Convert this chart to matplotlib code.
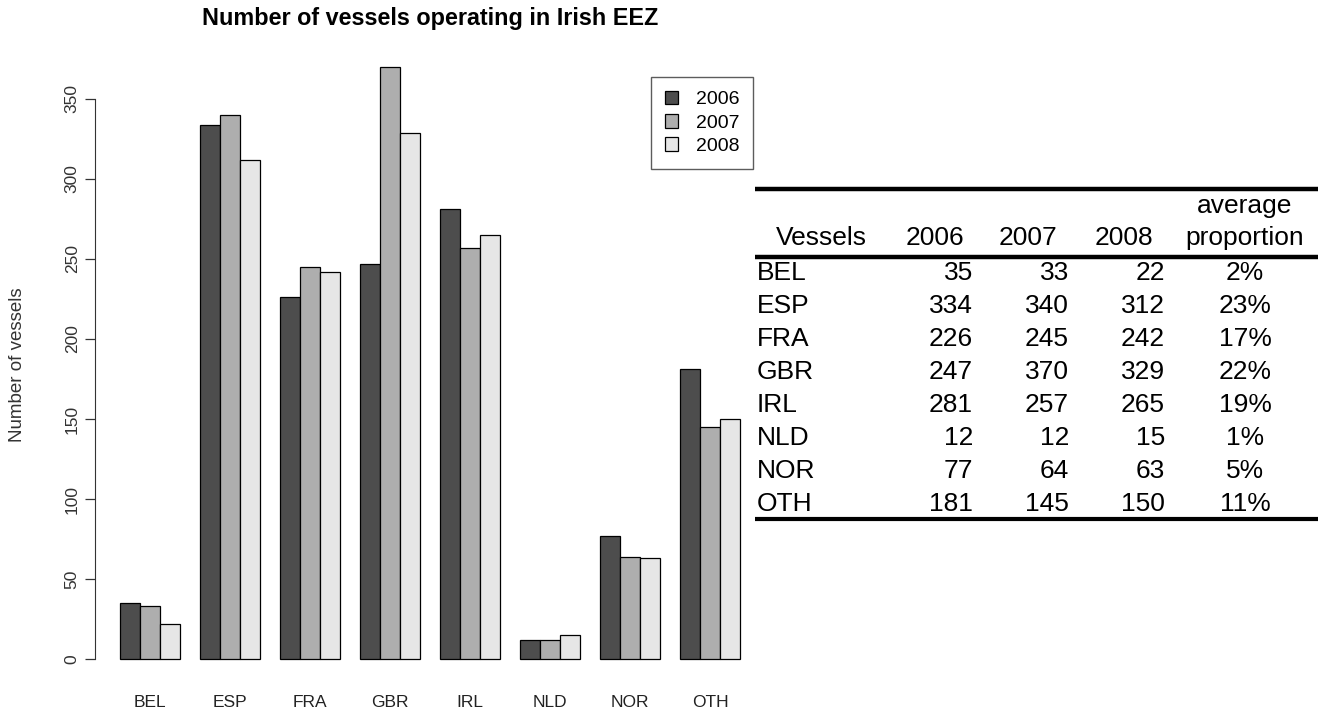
import numpy as np
import matplotlib.pyplot as plt
from matplotlib.lines import Line2D

plt.rcParams['font.family'] = ['Liberation Sans', 'DejaVu Sans']

# vessel counts by flag country
countries = ["BEL", "ESP", "FRA", "GBR", "IRL", "NLD", "NOR", "OTH"]
years = ["2006", "2007", "2008"]
v2006 = [35, 334, 226, 247, 281, 12, 77, 181]
v2007 = [33, 340, 245, 370, 257, 12, 64, 145]
v2008 = [22, 312, 242, 329, 265, 15, 63, 150]
colours = ["#4D4D4D", "#AEAEAE", "#E6E6E6"]

counts = np.array([v2006, v2007, v2008])
avg_prop = counts.mean(axis=0) / counts.mean(axis=0).sum() * 100

W, H = 1324, 713
fig = plt.figure(figsize=(W / 100, H / 100), dpi=100)

def fx(px):
    return px / W

def fy(py):
    return 1 - py / H

# barplot area (units: one bar = 1)
ax = fig.add_axes([fx(95), fy(682.7), fx(765) - fx(95), fy(43.3) - fy(682.7)])
ax.set_xlim(-0.24, 33.24)
ax.set_ylim(-14.8, 384.8)

for j, vals in enumerate(counts):
    lefts = 1 + 4 * np.arange(len(countries)) + j
    ax.bar(lefts, vals, width=1, align='edge', color=colours[j],
           edgecolor='black', linewidth=0.9, label=years[j])

for s in ["top", "right", "bottom"]:
    ax.spines[s].set_visible(False)
ax.spines["left"].set_bounds(0, 350)
ax.spines["left"].set_color("#333333")
ax.set_yticks(np.arange(0, 351, 50))
ax.set_yticklabels([str(v) for v in range(0, 351, 50)], rotation=90,
                   va='center', fontsize=12.5, color="#333333")
ax.tick_params(axis='y', length=7, width=0.9, color="#333333", pad=4)
ax.set_xticks(2.5 + 4 * np.arange(len(countries)))
ax.set_xticklabels(countries, fontsize=12.5, color="#222222")
ax.tick_params(axis='x', length=0, pad=9)

fig.text(fx(18), fy(365), "Number of vessels", rotation=90, ha='center',
         va='center', fontsize=13.5, color="#333333")

fig.text(fx(430), fy(19), "Number of vessels operating in Irish EEZ",
         ha='center', va='center', fontsize=16.8, fontweight='bold')

leg = fig.legend(loc='upper left', bbox_to_anchor=(fx(651), fy(77)),
                 fontsize=14, frameon=True, fancybox=False, borderaxespad=0,
                 handlelength=0.7, handleheight=0.7, handletextpad=0.9,
                 labelspacing=0.3, borderpad=0.7)
leg.get_frame().set_edgecolor('#333333')
leg.get_frame().set_linewidth(1.0)

# summary table on the right
tfs = 19
x0, x1 = 755, 1318
for y, lw in [(189, 3.2), (257, 3.2), (519, 3.0)]:
    fig.add_artist(Line2D([fx(x0), fx(x1)], [fy(y), fy(y)], color='black',
                          linewidth=lw, solid_capstyle='butt'))

fig.text(fx(821), fy(238), "Vessels", ha='center', va='center', fontsize=tfs)
for xc, yr in zip([935, 1028, 1124], years):
    fig.text(fx(xc), fy(238), yr, ha='center', va='center', fontsize=tfs)
fig.text(fx(1245), fy(206), "average", ha='center', va='center', fontsize=tfs)
fig.text(fx(1245), fy(238), "proportion", ha='center', va='center', fontsize=tfs)

for i, c in enumerate(countries):
    y = fy(273 + 33 * i)
    fig.text(fx(757), y, c, ha='left', va='center', fontsize=tfs)
    for xr, vals in zip([973, 1069, 1165], counts):
        fig.text(fx(xr), y, str(vals[i]), ha='right', va='center', fontsize=tfs)
    fig.text(fx(1245), y, f"{avg_prop[i]:.0f}%", ha='center', va='center',
             fontsize=tfs)

fig.savefig("out.png", dpi=100)
